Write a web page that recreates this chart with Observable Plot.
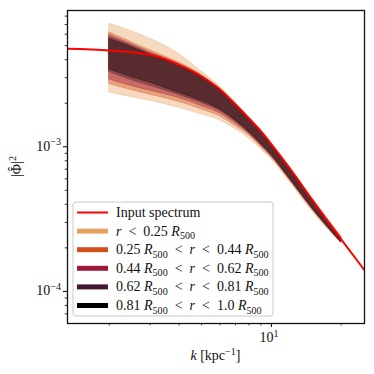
<!DOCTYPE html>
<html><head><meta charset="utf-8">
<script src="https://cdn.jsdelivr.net/npm/d3@7"></script>
<script src="https://cdn.jsdelivr.net/npm/@observablehq/plot@0.6"></script>
<style>
body{margin:0;background:#fff;}
#chart{width:374px;height:374px;}
svg text{white-space:pre;}
</style>
</head><body><div id="chart"></div>
<script>
// ---- data ----
const kInput = [1.32, 2, 3, 4, 5, 6, 7, 8, 9, 10, 12, 15, 20, 25.2];
const pInput = [4.76e-3, 4.63e-3, 4.32e-3, 3.68e-3, 3.06e-3, 2.49e-3, 1.96e-3, 1.57e-3, 1.28e-3, 1.04e-3, 7.08e-4, 4.29e-4, 2.29e-4, 1.40e-4];

const kBand = [2, 2.5, 3, 4, 5, 6, 7, 8, 9, 10, 12, 15, 20];
const band1Lo = [2.37e-3, 2.20e-3, 2.08e-3, 1.85e-3, 1.67e-3, 1.52e-3, 1.32e-3, 1.14e-3, 9.66e-4, 8.17e-4, 5.71e-4, 3.57e-4, 2.15e-4];
const band1Hi = [7.08e-3, 6.28e-3, 5.58e-3, 4.38e-3, 3.31e-3, 2.61e-3, 2.02e-3, 1.61e-3, 1.31e-3, 1.06e-3, 7.25e-4, 4.43e-4, 2.42e-4];
const band2Lo = [2.72e-3, 2.46e-3, 2.29e-3, 2.04e-3, 1.81e-3, 1.62e-3, 1.39e-3, 1.20e-3, 1.00e-3, 8.44e-4, 5.85e-4, 3.66e-4, 2.16e-4];
const band2Hi = [6.19e-3, 5.28e-3, 4.64e-3, 3.82e-3, 3.14e-3, 2.53e-3, 1.99e-3, 1.59e-3, 1.30e-3, 1.05e-3, 7.19e-4, 4.36e-4, 2.38e-4];
const band3Lo = [2.92e-3, 2.62e-3, 2.44e-3, 2.17e-3, 1.91e-3, 1.70e-3, 1.45e-3, 1.23e-3, 1.02e-3, 8.57e-4, 5.94e-4, 3.72e-4, 2.17e-4];
const band3Hi = [5.94e-3, 5.11e-3, 4.50e-3, 3.73e-3, 3.09e-3, 2.49e-3, 1.96e-3, 1.57e-3, 1.28e-3, 1.04e-3, 7.08e-4, 4.29e-4, 2.36e-4];
const band4Lo = [3.29e-3, 2.88e-3, 2.64e-3, 2.28e-3, 2.01e-3, 1.77e-3, 1.50e-3, 1.25e-3, 1.04e-3, 8.71e-4, 5.99e-4, 3.75e-4, 2.18e-4];
const band4Hi = [5.72e-3, 4.99e-3, 4.39e-3, 3.68e-3, 3.04e-3, 2.47e-3, 1.95e-3, 1.56e-3, 1.27e-3, 1.03e-3, 7.03e-4, 4.29e-4, 2.34e-4];
const band5Lo = [3.42e-3, 3.02e-3, 2.77e-3, 2.35e-3, 2.07e-3, 1.81e-3, 1.52e-3, 1.27e-3, 1.05e-3, 8.80e-4, 6.04e-4, 3.78e-4, 2.19e-4];
const band5Hi = [5.56e-3, 4.87e-3, 4.32e-3, 3.62e-3, 3.01e-3, 2.45e-3, 1.93e-3, 1.54e-3, 1.26e-3, 1.02e-3, 6.97e-4, 4.25e-4, 2.32e-4];

const rLow = [null, "0.25", "0.44", "0.62", "0.81"];
const rHigh = ["0.25", "0.44", "0.62", "0.81", "1.0"];
const bandColors = ["#e6a35f", "#d4511b", "#9c1a3b", "#43172f", "#000000"];
const inputColor = "#ff0000";
const inputLabel = "Input spectrum";

const xMajor = [10];
const xMinor = [2, 3, 4, 5, 6, 7, 8, 9, 20];
const yMajor = [1e-4, 1e-3];
const yMinor = [7e-5, 8e-5, 9e-5, 2e-4, 3e-4, 4e-4, 5e-4, 6e-4, 7e-4, 8e-4, 9e-4, 2e-3, 3e-3, 4e-3, 5e-3, 6e-3, 7e-3, 8e-3];

// ---- build tables ----
const los = [band1Lo, band2Lo, band3Lo, band4Lo, band5Lo];
const his = [band1Hi, band2Hi, band3Hi, band4Hi, band5Hi];
const bandTables = los.map((lo, b) => kBand.map((k, i) => ({k, lo: lo[i], hi: his[b][i]})));
const inputTable = kInput.map((k, i) => ({k, p: pInput[i]}));

const serif = "'Liberation Serif', 'DejaVu Serif', serif";

const plot = Plot.plot({
  width: 374, height: 374,
  marginLeft: 67, marginRight: 10, marginTop: 10, marginBottom: 51,
  style: {fontFamily: serif, fontSize: "14px", background: "#fff", color: "#000"},
  x: {type: "log", domain: [1.32, 25.2]},
  y: {type: "log", domain: [6.0e-5, 8.75e-3]},
  marks: [
    ...bandTables.map((t, b) => Plot.areaY(t, {
      x: "k", y1: "lo", y2: "hi", curve: "monotone-x",
      fill: bandColors[b], fillOpacity: 0.4,
      stroke: bandColors[b], strokeOpacity: 0.4, strokeWidth: 0.8
    })),
    Plot.line(inputTable, {x: "k", y: "p", stroke: inputColor, strokeWidth: 2, curve: "monotone-x", clip: true}),
    Plot.axisX({ticks: xMajor, tickSize: 4, tickFormat: () => "", label: null, strokeWidth: 1}),
    Plot.axisX({ticks: xMinor, tickSize: 2.3, tickFormat: () => "", label: null, strokeWidth: 0.8}),
    Plot.axisY({ticks: yMajor, tickSize: 4, tickFormat: () => "", label: null, strokeWidth: 1}),
    Plot.axisY({ticks: yMinor, tickSize: 2.3, tickFormat: () => "", label: null, strokeWidth: 0.8}),
    Plot.frame({stroke: "#111", strokeWidth: 1.3})
  ]
});
document.getElementById("chart").appendChild(plot);

// ---- rich text helpers ----
const sx = plot.scale("x"), sy = plot.scale("y");
const svg = d3.select(plot);
function rich(sel, segs, size) {
  let shift = 0;
  for (const s of segs) {
    const ts = sel.append("tspan").text(s.t);
    const target = s.sub ? 3.5 : s.sup ? -5.5 : 0;
    if (target !== shift) { ts.attr("dy", target - shift); shift = target; }
    if (s.sub || s.sup) ts.attr("font-size", size * 0.72);
    if (s.i) ts.attr("font-style", "italic");
  }
}
const g = svg.append("g").attr("font-family", serif).attr("fill", "#111");

// y tick labels
for (const v of yMajor) {
  const t = g.append("text").attr("x", 61).attr("y", sy.apply(v) + 4.5)
    .attr("text-anchor", "end").attr("font-size", 14);
  rich(t, [{t: "10"}, {t: "\u2212" + Math.round(-Math.log10(v)), sup: true}], 14);
}
// x tick labels
for (const v of xMajor) {
  const t = g.append("text").attr("x", sx.apply(v) - 2).attr("y", 342)
    .attr("text-anchor", "middle").attr("font-size", 14);
  rich(t, [{t: "10"}, {t: String(Math.round(Math.log10(v))), sup: true}], 14);
}
// axis labels
{
  const t = g.append("text").attr("x", 215.5).attr("y", 360).attr("text-anchor", "middle").attr("font-size", 14);
  rich(t, [{t: "k", i: true}, {t: " [kpc"}, {t: "\u22121", sup: true}, {t: "]"}], 14);
  const gy = g.append("g").attr("transform", "translate(21,166.5) rotate(-90)");
  const ty = gy.append("text").attr("text-anchor", "middle").attr("font-size", 14);
  rich(ty, [{t: "|\u03A6|"}, {t: "2", sup: true}], 14);
  let cx = -3;
  try { const e = ty.node().getExtentOfChar(1); cx = e.x + e.width / 2; } catch (err) {}
  gy.append("text").attr("x", cx).attr("y", -3.5).attr("text-anchor", "middle").attr("font-size", 14).text("\u02C6");
}

// legend
{
  const lx = 73, ly = 202, lw = 200, lh = 114, rowH = 18.6, first = 10.5;
  const rel = "\u2002<\u2002";
  const lg = svg.append("g").attr("font-family", serif).attr("text-anchor", "start");
  lg.append("rect").attr("x", lx).attr("y", ly).attr("width", lw).attr("height", lh)
    .attr("rx", 3).attr("fill", "#fff").attr("fill-opacity", 0.85).attr("stroke", "#c8c8c8").attr("stroke-width", 1);
  const entries = [{color: inputColor, w: 2, segs: [{t: inputLabel}]}];
  for (let b = 0; b < bandColors.length; b++) {
    const segs = [];
    if (rLow[b] !== null) segs.push({t: rLow[b] + " "}, {t: "R", i: true}, {t: "500", sub: true}, {t: rel});
    segs.push({t: "r", i: true}, {t: rel + rHigh[b] + " "}, {t: "R", i: true}, {t: "500", sub: true});
    entries.push({color: bandColors[b], w: 5, segs});
  }
  entries.forEach((e, i) => {
    const cy = ly + first + i * rowH;
    lg.append("line").attr("x1", lx + 4).attr("x2", lx + 35).attr("y1", cy).attr("y2", cy)
      .attr("stroke", e.color).attr("stroke-width", e.w);
    const t = lg.append("text").attr("x", lx + 43).attr("y", cy + 4.5).attr("font-size", 14)
      .attr("text-anchor", "start").attr("fill", "#111");
    rich(t, e.segs, 14);
  });
}
</script>
</body></html>
